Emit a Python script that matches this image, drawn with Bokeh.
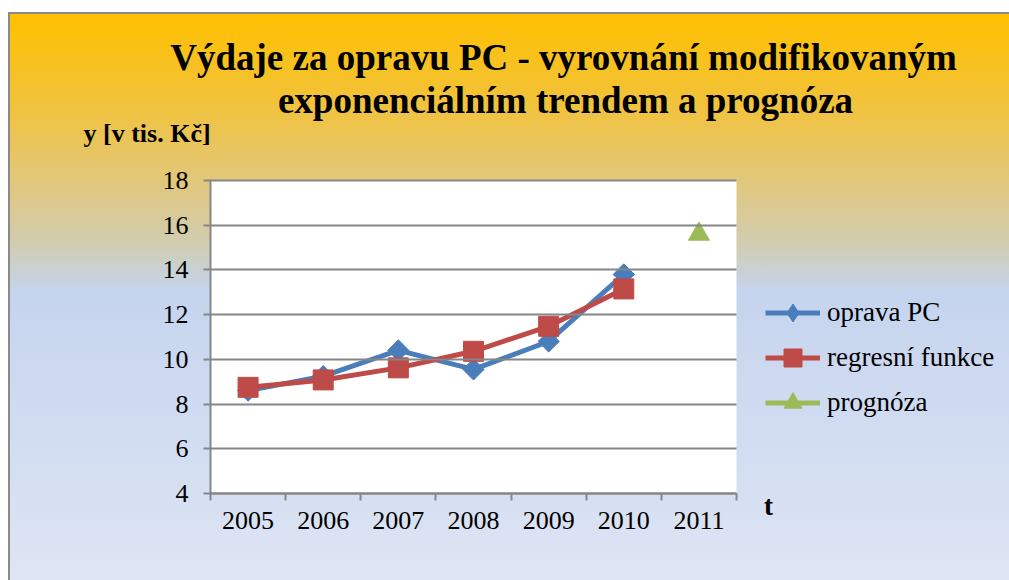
from bokeh.plotting import figure
from bokeh.models import (Range1d, LinearAxis, FixedTicker, Label, Legend, LegendItem,
                          BoxAnnotation)
from bokeh.embed import file_html
from bokeh.resources import INLINE

# ---- data ----
years = ["2005", "2006", "2007", "2008", "2009", "2010", "2011"]
oprava_years = ["2005", "2006", "2007", "2008", "2009", "2010"]
oprava_pc = [8.6, 9.25, 10.4, 9.55, 10.8, 13.8]
regresni_years = ["2005", "2006", "2007", "2008", "2009", "2010"]
regresni = [8.75, 9.08, 9.62, 10.36, 11.48, 13.15]
prognoza_years = ["2011"]
prognoza = [15.6]
y_ticks = [4, 6, 8, 10, 12, 14, 16, 18]

title_line1 = "Výdaje za opravu PC - vyrovnání modifikovaným"
title_line2 = "exponenciálním trendem a prognóza"
y_label = "y [v tis. Kč]"
x_label = "t"

BLUE = "#4A7EBB"
RED = "#BE4B48"
GREEN = "#9BBB59"
GRID = "#868686"
FONT = "Liberation Serif"


def pos(cats):
    # category slot centre on a 0..len(years) axis
    return [years.index(c) + 0.5 for c in cats]


# ---- layout (pixels of the 1009x580 canvas) ----
W, H = 1009, 580
AREA_L, AREA_R, AREA_T, AREA_B = 210, 736, 180, 493   # plot area in canvas px
n = len(years)
y_lo, y_hi = y_ticks[0], y_ticks[-1]
px_x = (AREA_R - AREA_L) / n
px_y = (AREA_B - AREA_T) / (y_hi - y_lo)
x_range = Range1d(-AREA_L / px_x, (W - AREA_L) / px_x)
y_range = Range1d(y_lo - (H - AREA_B) / px_y, y_hi + AREA_T / px_y)

p = figure(width=W, height=H, x_range=x_range, y_range=y_range,
           output_backend="svg", toolbar_location=None,
           x_axis_location=None, y_axis_location=None, min_border=0)

p.styles = {
    "background": (
        "linear-gradient(to bottom, #ffffff 0px, #ffffff 12px, transparent 12px), "
        "linear-gradient(to right, #ffffff 0px, #ffffff 8px, #8a8a8a 8px, #8a8a8a 10px, transparent 10px), "
        "linear-gradient(to bottom, #ffffff 0px, #ffffff 12px, #8a8a8a 12px, #8a8a8a 14px, "
        "#FFC000 14px, #F2C238 100px, #E2C77A 180px, #D0CDB2 245px, #C5D4EE 292px, #DEE5F4 580px)"
    )
}
p.border_fill_color = None
p.background_fill_color = None
p.outline_line_color = None
p.xgrid.visible = False
p.ygrid.visible = False

# white plot area
p.add_layout(BoxAnnotation(left=0, right=n, bottom=y_lo, top=y_hi,
                           fill_color="white", fill_alpha=1, line_color=None,
                           level="underlay"))

# y axis; its inward ticks span the plot area and act as the horizontal gridlines
ya = LinearAxis(fixed_location=0, bounds=(y_lo, y_hi), ticker=FixedTicker(ticks=y_ticks),
                axis_line_color=GRID, axis_line_width=2,
                major_tick_line_color=GRID, major_tick_line_width=2,
                major_tick_out=7, major_tick_in=AREA_R - AREA_L,
                minor_tick_out=0, minor_tick_in=0,
                major_label_text_font=FONT, major_label_text_font_size="26px",
                major_label_text_color="black", major_label_standoff=15)
p.add_layout(ya, "left")

# x axes: boundary ticks + category labels at slot centres
bounds = list(range(n + 1))
xa_ticks = LinearAxis(fixed_location=y_lo, bounds=(0, n), ticker=FixedTicker(ticks=bounds),
                      major_label_overrides={b: "" for b in bounds},
                      axis_line_color=GRID, axis_line_width=2,
                      major_tick_line_color=GRID, major_tick_line_width=2,
                      major_tick_out=7, major_tick_in=0,
                      minor_tick_out=0, minor_tick_in=0,
                      major_label_text_font_size="1px", major_label_standoff=0)
p.add_layout(xa_ticks, "below")
centres = pos(years)
xa_cat = LinearAxis(fixed_location=y_lo, ticker=FixedTicker(ticks=centres),
                    major_label_overrides={c: y for c, y in zip(centres, years)},
                    axis_line_color=None, major_tick_line_color=None,
                    major_tick_out=0, major_tick_in=0,
                    minor_tick_out=0, minor_tick_in=0,
                    major_label_text_font=FONT,
                    major_label_text_font_size="26px",
                    major_label_text_color="black",
                    major_label_standoff=18)
p.add_layout(xa_cat, "below")

# series
l1 = p.line(x=pos(oprava_years), y=oprava_pc, line_color=BLUE, line_width=5)
d1 = p.scatter(x=pos(oprava_years), y=oprava_pc, marker="diamond", size=20,
               fill_color=BLUE, line_color=BLUE)
s1 = p.scatter(x=pos(oprava_years), y=oprava_pc, marker="square", angle=0.785398,
               size=15, fill_color=BLUE, line_color=BLUE)
l2 = p.line(x=pos(regresni_years), y=regresni, line_color=RED, line_width=5)
s2 = p.scatter(x=pos(regresni_years), y=regresni, marker="square", size=20,
               fill_color=RED, line_color=RED)
l3 = p.line(x=pos(prognoza_years), y=prognoza, line_color=GREEN, line_width=5)
s3 = p.scatter(x=pos(prognoza_years), y=prognoza, marker="triangle", size=21,
               fill_color=GREEN, line_color=GREEN)

legend = Legend(items=[
    LegendItem(label="oprava PC", renderers=[l1, d1]),
    LegendItem(label="regresní funkce", renderers=[l2, s2]),
    LegendItem(label="prognóza", renderers=[l3, s3]),
], location=(765, 155), orientation="vertical",
    glyph_width=55, glyph_height=45, label_height=45, spacing=0,
    label_standoff=7, padding=0, margin=0,
    border_line_color=None, background_fill_alpha=0,
    label_text_font=FONT, label_text_font_size="27px", label_text_color="black")
p.add_layout(legend)

# texts (screen px, origin bottom-left of canvas)
for txt, x, y, size, align in [
    (title_line1, 563, H - 57, "37px", "center"),
    (title_line2, 565, H - 100, "37px", "center"),
    (y_label, 83, H - 133, "26px", "left"),
    (x_label, 768, H - 505, "27px", "center"),
]:
    p.add_layout(Label(x=x, y=y, x_units="screen", y_units="screen", text=txt,
                       text_font=FONT, text_font_size=size, text_font_style="bold",
                       text_align=align, text_baseline="middle", text_color="black"))

open("out.html", "w").write(file_html(p, INLINE))
